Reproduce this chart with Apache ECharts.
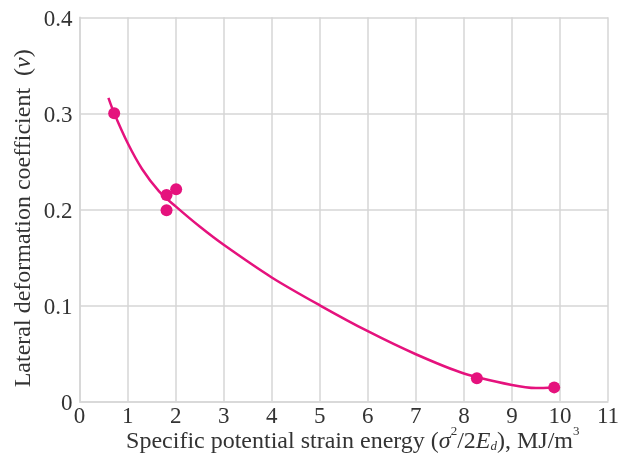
<!DOCTYPE html>
<html>
<head>
<meta charset="utf-8">
<script src="https://cdn.jsdelivr.net/npm/echarts@6/dist/echarts.min.js"></script>
<style>html,body{margin:0;padding:0;background:#fff;}#c{width:633px;height:457px;}</style>
</head>
<body>
<div id="c"></div>
<script>
// Measured points: specific potential strain energy (MJ/m^3) vs lateral deformation coefficient
const pointX = [0.72, 1.81, 2.01, 1.81, 8.27, 9.88];
const pointY = [0.300, 0.215, 0.221, 0.199, 0.024, 0.0145];
// Fitted trend curve
const curveX = [0.6, 0.72, 1.0, 1.3, 1.65, 2.0, 2.5, 3.0, 4.0, 5.0, 6.0, 7.0, 8.0, 9.0, 9.5, 9.88];
const curveY = [0.316, 0.300, 0.269, 0.242, 0.219, 0.203, 0.182, 0.163, 0.129, 0.100, 0.073, 0.049, 0.029, 0.017, 0.0138, 0.0145];
const xTicks = [0,1,2,3,4,5,6,7,8,9,10,11];
const yTicks = [0, 0.1, 0.2, 0.3, 0.4];

const color = '#e5127d';
const gridColor = '#d6d6d6';
const textColor = '#333';
const font = '"Liberation Serif", "Times New Roman", serif';

const chart = echarts.init(document.getElementById('c'), null, {renderer:'canvas'});
chart.setOption({
  animation: false,
  backgroundColor: '#fff',
  grid: {left: 79.6, right: 25, top: 17.3, bottom: 55.7, show: false, containLabel: false, outerBoundsMode: 'none'},
  xAxis: {
    type: 'value', min: xTicks[0], max: xTicks[xTicks.length-1], interval: 1,
    axisLine: {show: true, lineStyle: {color: gridColor, width: 1.5}},
    axisTick: {show: false},
    splitLine: {show: true, lineStyle: {color: gridColor, width: 1.5}},
    axisLabel: {color: textColor, fontFamily: font, fontSize: 23, margin: 4},
    name: '{t|Specific potential strain energy (}{i|σ}{sup|2}{t|/2}{i|E}{sub|d}{t|), MJ/m}{sup|3}',
    nameLocation: 'middle', nameGap: 24, nameMoveOverlap: false,
    nameTextStyle: {
      padding: [0,0,0,18],
      rich: {
        t: {fontFamily: font, fontSize: 24, color: textColor, lineHeight: 28, verticalAlign: 'bottom'},
        i: {fontFamily: font, fontSize: 24, color: textColor, fontStyle: 'italic', lineHeight: 28, verticalAlign: 'bottom'},
        sup: {fontFamily: font, fontSize: 13, color: textColor, lineHeight: 28, verticalAlign: 'top'},
        sub: {fontFamily: font, fontSize: 13, color: textColor, fontStyle: 'italic', lineHeight: 21, verticalAlign: 'bottom'}
      }
    }
  },
  yAxis: {
    type: 'value', min: yTicks[0], max: yTicks[yTicks.length-1], interval: 0.1,
    axisLine: {show: true, lineStyle: {color: gridColor, width: 1.5}},
    axisTick: {show: false},
    splitLine: {show: true, lineStyle: {color: gridColor, width: 1.5}},
    axisLabel: {color: textColor, fontFamily: font, fontSize: 23, margin: 7,
      verticalAlign: 'top', lineHeight: 6,
      formatter: v => v === 0 ? '0' : v.toFixed(1)},
    name: '{t|Lateral deformation coefficient  (}{i|ν}{t|)}',
    nameLocation: 'middle', nameGap: 44, nameRotate: 90, nameMoveOverlap: false,
    nameTextStyle: {
      padding: [0,18,0,0],
      rich: {
        t: {fontFamily: font, fontSize: 24, color: textColor},
        i: {fontFamily: font, fontSize: 24, color: textColor, fontStyle: 'italic'}
      }
    }
  },
  series: [
    {
      type: 'line', data: curveX.map((x,i)=>[x, curveY[i]]), smooth: 0.3, showSymbol: false,
      lineStyle: {color: color, width: 2.5}, z: 2
    },
    {
      type: 'scatter', data: pointX.map((x,i)=>[x, pointY[i]]), symbolSize: 12,
      itemStyle: {color: color, opacity: 1}, z: 3
    }
  ]
});
</script>
</body>
</html>
